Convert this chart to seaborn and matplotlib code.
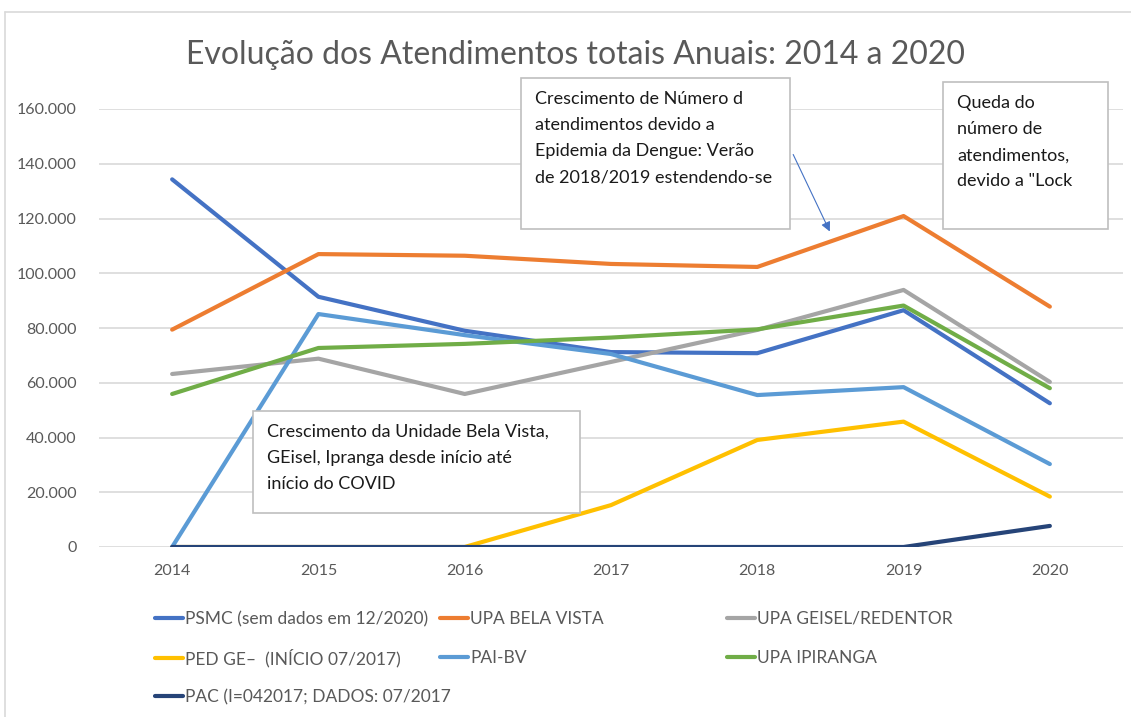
import matplotlib
matplotlib.use("Agg")
import matplotlib.pyplot as plt
import matplotlib.patches as mpatches
from matplotlib.lines import Line2D
import pandas as pd
import seaborn as sns

years = [2014, 2015, 2016, 2017, 2018, 2019, 2020]
psmc = [134300, 91400, 79000, 71200, 70800, 86500, 52500]
upa_bela_vista = [79400, 107000, 106400, 103400, 102300, 120900, 87800]
upa_geisel = [63200, 68800, 55900, 67600, 79300, 93900, 60300]
ped_ge = [0, 0, 0, 15300, 39100, 45800, 18400]
pai_bv = [0, 85100, 77400, 70500, 55500, 58400, 30300]
upa_ipiranga = [55900, 72700, 74200, 76500, 79500, 88200, 58000]
pac = [0, 0, 0, 0, 0, 0, 7700]

series_names = [
    "PSMC (sem dados em 12/2020)",
    "UPA BELA VISTA",
    "UPA GEISEL/REDENTOR",
    "PED GE\u2013  (INÍCIO 07/2017)",
    "PAI-BV",
    "UPA IPIRANGA",
    "PAC (I=042017; DADOS: 07/2017",
]
series_values = [psmc, upa_bela_vista, upa_geisel, ped_ge, pai_bv, upa_ipiranga, pac]
colors = ["#4472C4", "#ED7D31", "#A5A5A5", "#FFC000", "#5B9BD5", "#70AD47", "#264478"]
yticks = [0, 20000, 40000, 60000, 80000, 100000, 120000, 140000, 160000]

rows = []
for name, vals in zip(series_names, series_values):
    for yr, v in zip(years, vals):
        rows.append({"ano": yr, "atendimentos": v, "unidade": name})
df = pd.DataFrame(rows)

sns.set_style("white")
plt.rcParams["font.family"] = ["Lato", "DejaVu Sans"]

W, H = 1131, 717
fig = plt.figure(figsize=(W / 100, H / 100), dpi=100)
ax = fig.add_axes([99 / W, 1 - 547 / H, (1123 - 99) / W, (547 - 109) / H])

palette = dict(zip(series_names, colors))
sns.lineplot(data=df, x="ano", y="atendimentos", hue="unidade",
             hue_order=series_names, palette=palette, linewidth=3,
             legend=False, ax=ax, solid_capstyle="round")

ax.set_xlim(2013.5, 2020.5)
ax.set_ylim(0, 160000)
ax.set_yticks(yticks)
ax.set_yticklabels([f"{v:,}".replace(",", ".") for v in yticks])
ax.set_xticks(years)
ax.set_xticklabels([str(y) for y in years])
ax.tick_params(axis="both", length=0, labelsize=11.5, colors="#595959")
ax.tick_params(axis="y", pad=16)
ax.tick_params(axis="x", pad=12)
ax.grid(axis="y", color="#D9D9D9", linewidth=1.2)
ax.set_axisbelow(True)
ax.set_xlabel("")
ax.set_ylabel("")
for s in ax.spines.values():
    s.set_visible(False)

fig.text(576 / W, 1 - 55 / H, "Evolução dos Atendimentos totais Anuais: 2014 a 2020",
         ha="center", va="center", fontsize=23, color="#595959")

# chart border (left/top visible)
fig.add_artist(Line2D([5 / W, 5 / W], [0, 1 - 12 / H], transform=fig.transFigure,
                      color="#D9D9D9", lw=1.2))
fig.add_artist(Line2D([5 / W, 1], [1 - 12 / H, 1 - 12 / H], transform=fig.transFigure,
                      color="#D9D9D9", lw=1.2))

# legend: one entry per slot so rows line up across columns
legend_x = [155, 440, 727]
legend_y = [619, 658, 697]
for i, (name, c) in enumerate(zip(series_names, colors)):
    col, row = i % 3, i // 3
    fig.legend([Line2D([], [], color=c, lw=3)], [name], loc="center left",
               bbox_to_anchor=(legend_x[col] / W, 1 - legend_y[row] / H), frameon=False,
               fontsize=12.5, labelcolor="#595959", handlelength=1.6,
               handletextpad=0.15, borderpad=0, borderaxespad=0)


def text_box(x0, y0, x1, y1, txt):
    fig.add_artist(mpatches.Rectangle((x0 / W, 1 - y1 / H), (x1 - x0) / W, (y1 - y0) / H,
                                      transform=fig.transFigure, facecolor="white",
                                      edgecolor="#BFBFBF", lw=1.2, zorder=3))
    fig.text((x0 + 14) / W, 1 - (y0 + 13) / H, txt, ha="left", va="top",
             fontsize=13, color="#1a1a1a", linespacing=1.78, zorder=4)


text_box(521, 78, 790, 229,
         "Crescimento de Número d\natendimentos devido a\nEpidemia da Dengue: Verão\nde 2018/2019 estendendo-se")
text_box(943, 82, 1108, 229,
         "Queda do\nnúmero de\natendimentos,\ndevido a \"Lock")
text_box(253, 411, 580, 513,
         "Crescimento da Unidade Bela Vista,\nGEisel, Ipranga desde início até\ninício do COVID")

fig.add_artist(mpatches.FancyArrowPatch((792 / W, 1 - 152 / H), (831 / W, 1 - 234 / H),
                                        transform=fig.transFigure, arrowstyle="-|>",
                                        mutation_scale=14, color="#4472C4", lw=0.8,
                                        zorder=5))

fig.savefig("out.png", dpi=100)
